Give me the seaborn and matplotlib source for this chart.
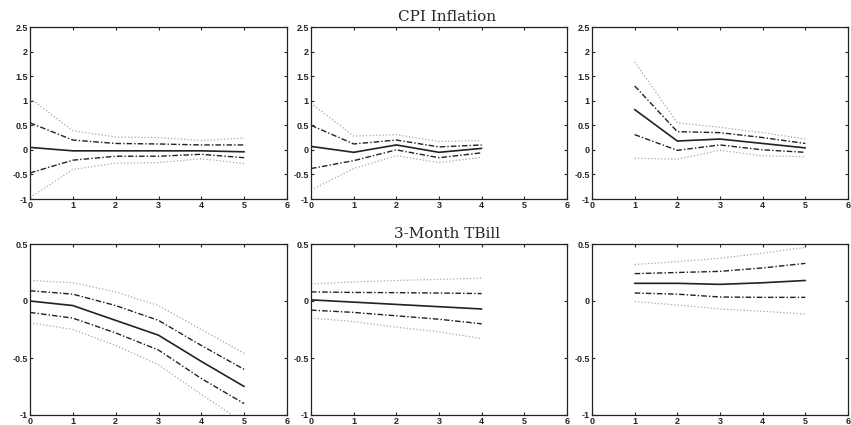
import numpy as np
import pandas as pd
import matplotlib
matplotlib.use("Agg")
import matplotlib.pyplot as plt
import seaborn as sns

# impulse responses: point estimate, inner band (dash-dot), outer band (dotted)
# top row: CPI Inflation
cpi_l_x = [0, 1, 2, 3, 4, 5]
cpi_l_mid = [0.05, -0.02, -0.02, -0.02, -0.02, -0.04]
cpi_l_hi1 = [0.55, 0.20, 0.13, 0.12, 0.10, 0.10]
cpi_l_lo1 = [-0.47, -0.21, -0.13, -0.13, -0.09, -0.16]
cpi_l_hi2 = [1.05, 0.39, 0.26, 0.25, 0.19, 0.24]
cpi_l_lo2 = [-0.97, -0.40, -0.27, -0.26, -0.18, -0.28]

cpi_m_x = [0, 1, 2, 3, 4]
cpi_m_mid = [0.07, -0.05, 0.10, -0.05, 0.03]
cpi_m_hi1 = [0.50, 0.12, 0.20, 0.06, 0.10]
cpi_m_lo1 = [-0.38, -0.22, 0.00, -0.16, -0.06]
cpi_m_hi2 = [0.95, 0.28, 0.31, 0.17, 0.19]
cpi_m_lo2 = [-0.82, -0.38, -0.12, -0.26, -0.15]

cpi_r_x = [1, 2, 3, 4, 5]
cpi_r_mid = [0.82, 0.18, 0.22, 0.13, 0.04]
cpi_r_hi1 = [1.30, 0.37, 0.35, 0.25, 0.13]
cpi_r_lo1 = [0.31, -0.01, 0.10, 0.00, -0.05]
cpi_r_hi2 = [1.79, 0.55, 0.46, 0.35, 0.22]
cpi_r_lo2 = [-0.17, -0.19, -0.01, -0.12, -0.14]

# bottom row: 3-Month TBill
tb_l_x = [0, 1, 2, 3, 4, 5]
tb_l_mid = [0.00, -0.04, -0.17, -0.30, -0.53, -0.75]
tb_l_hi1 = [0.09, 0.06, -0.04, -0.17, -0.39, -0.60]
tb_l_lo1 = [-0.10, -0.15, -0.28, -0.43, -0.68, -0.90]
tb_l_hi2 = [0.18, 0.16, 0.08, -0.04, -0.25, -0.46]
tb_l_lo2 = [-0.19, -0.25, -0.39, -0.56, -0.82, -1.07]

tb_m_x = [0, 1, 2, 3, 4]
tb_m_mid = [0.01, -0.01, -0.03, -0.05, -0.07]
tb_m_hi1 = [0.08, 0.075, 0.073, 0.07, 0.065]
tb_m_lo1 = [-0.08, -0.10, -0.13, -0.16, -0.20]
tb_m_hi2 = [0.15, 0.167, 0.18, 0.19, 0.20]
tb_m_lo2 = [-0.15, -0.18, -0.23, -0.27, -0.33]

tb_r_x = [1, 2, 3, 4, 5]
tb_r_mid = [0.155, 0.155, 0.146, 0.16, 0.18]
tb_r_hi1 = [0.24, 0.25, 0.26, 0.29, 0.33]
tb_r_lo1 = [0.07, 0.06, 0.035, 0.032, 0.032]
tb_r_hi2 = [0.32, 0.345, 0.375, 0.42, 0.47]
tb_r_lo2 = [-0.005, -0.035, -0.07, -0.09, -0.115]

panels = [
    (cpi_l_x, cpi_l_mid, cpi_l_hi1, cpi_l_lo1, cpi_l_hi2, cpi_l_lo2),
    (cpi_m_x, cpi_m_mid, cpi_m_hi1, cpi_m_lo1, cpi_m_hi2, cpi_m_lo2),
    (cpi_r_x, cpi_r_mid, cpi_r_hi1, cpi_r_lo1, cpi_r_hi2, cpi_r_lo2),
    (tb_l_x, tb_l_mid, tb_l_hi1, tb_l_lo1, tb_l_hi2, tb_l_lo2),
    (tb_m_x, tb_m_mid, tb_m_hi1, tb_m_lo1, tb_m_hi2, tb_m_lo2),
    (tb_r_x, tb_r_mid, tb_r_hi1, tb_r_lo1, tb_r_hi2, tb_r_lo2),
]

sns.set_style("ticks")
plt.rcParams['font.family'] = ['Liberation Sans', 'DejaVu Sans']

W, H = 851, 425
fig = plt.figure(figsize=(W / 100, H / 100), dpi=100)

cols = [(30, 287), (311, 567), (592, 848)]
rows = [(27, 199), (244, 415)]

dashdot = (0, (4, 1.5, 1, 1.5))
for i, p in enumerate(panels):
    r, c = divmod(i, 3)
    x0, x1 = cols[c]
    y0, y1 = rows[r]
    ax = fig.add_axes([x0 / W, 1 - y1 / H, (x1 - x0) / W, (y1 - y0) / H])
    x, mid, hi1, lo1, hi2, lo2 = p
    for vals, ls, col, lw in [(hi2, ':', '#a8a8a8', 0.9), (lo2, ':', '#a8a8a8', 0.9),
                              (hi1, dashdot, '#222222', 1.0), (lo1, dashdot, '#222222', 1.0),
                              (mid, '-', '#222222', 1.2)]:
        df = pd.DataFrame({'h': x, 'v': vals})
        sns.lineplot(data=df, x='h', y='v', ax=ax, color=col, lw=lw, linestyle=ls)
    ax.set_xlim(0, 6)
    ax.set_xticks(range(7))
    if r == 0:
        ax.set_ylim(-1, 2.5)
        ax.set_yticks(np.arange(-1, 2.51, 0.5))
        ax.set_yticklabels(['-1', '-0.5', '0', '0.5', '1', '1.5', '2', '2.5'])
    else:
        ax.set_ylim(-1, 0.5)
        ax.set_yticks([-1, -0.5, 0, 0.5])
        ax.set_yticklabels(['-1', '-0.5', '0', '0.5'])
    ax.set_xlabel('')
    ax.set_ylabel('')
    ax.tick_params(direction='in', length=2.5, width=0.8, labelsize=6.5, pad=1.5,
                   top=True, right=True)
    for lab in ax.get_xticklabels() + ax.get_yticklabels():
        lab.set_fontweight('bold')
    for s in ax.spines.values():
        s.set_linewidth(0.9)
        s.set_color('#222222')
    if c == 1:
        ax.set_title('CPI Inflation' if r == 0 else '3-Month TBill',
                     family=['DejaVu Serif'], fontsize=11, pad=4,
                     x=0.53)

fig.savefig('out.png', dpi=100, facecolor='white')
